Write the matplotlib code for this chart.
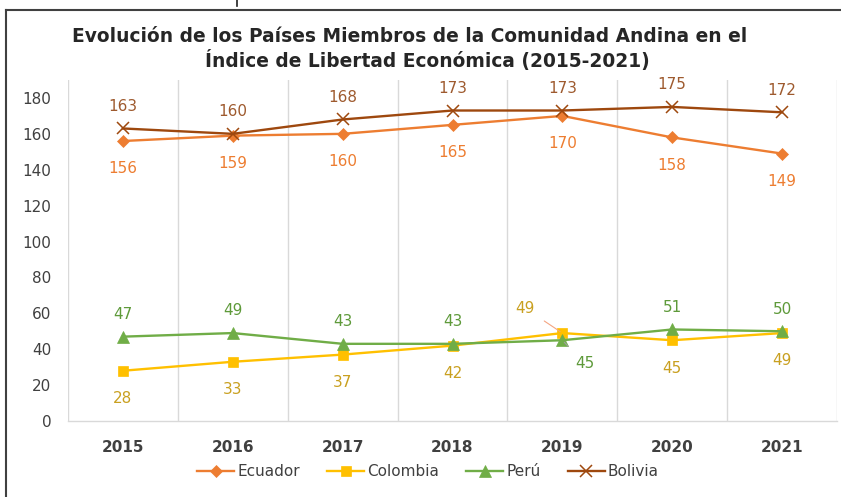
import matplotlib
matplotlib.use("Agg")
import matplotlib.pyplot as plt
from matplotlib.lines import Line2D

years = ["2015", "2016", "2017", "2018", "2019", "2020", "2021"]
ecuador = [156, 159, 160, 165, 170, 158, 149]
colombia = [28, 33, 37, 42, 49, 45, 49]
peru = [47, 49, 43, 43, 45, 51, 50]
bolivia = [163, 160, 168, 173, 173, 175, 172]
yticks = [0, 20, 40, 60, 80, 100, 120, 140, 160, 180]

plt.rcParams['font.family'] = ['DejaVu Sans']

fig = plt.figure(figsize=(8.41, 4.97), dpi=100)
ax = fig.add_axes([68/841, 1-421/497, (837-68)/841, (421-80)/497])

x = list(range(len(years)))
series = [
    ("Ecuador", ecuador, "#ED7D31", "D", 6, "#ED7D31"),
    ("Colombia", colombia, "#FFC000", "s", 7, "#C9A020"),
    ("Perú", peru, "#70AD47", "^", 8, "#5E9A3A"),
    ("Bolivia", bolivia, "#9E480E", "x", 9, "#9E5A2E"),
]
for name, vals, col, mk, ms, lc in series:
    ax.plot(x, vals, color=col, lw=1.7, marker=mk, markersize=ms,
            markeredgewidth=1.1 if mk == "x" else 0.5, label=name, zorder=3)

# data labels: +1 above, -1 below, 0 handled separately
pos = {
    "Ecuador": [-1, -1, -1, -1, -1, -1, -1],
    "Colombia": [-1, -1, -1, -1, 0, -1, -1],
    "Perú": [1, 1, 1, 1, 0, 1, 1],
    "Bolivia": [1, 1, 1, 1, 1, 1, 1],
}
for name, vals, col, mk, ms, lc in series:
    for i, v in enumerate(vals):
        p = pos[name][i]
        if p == 0:
            continue
        dy = 16 if p > 0 else -20
        ax.annotate(str(v), (i, v), xytext=(0, dy), textcoords="offset points",
                    ha="center", va="center", fontsize=11, color=lc)

# 2019 labels with leader lines
ax.annotate(str(colombia[4]), (4, colombia[4]), xytext=(-27, 18), textcoords="offset points",
            ha="center", va="center", fontsize=11, color="#C9A020",
            arrowprops=dict(arrowstyle="-", color="#F4A582", lw=0.8, shrinkA=6, shrinkB=2))
ax.annotate(str(peru[4]), (4, peru[4]), xytext=(16, -17), textcoords="offset points",
            ha="center", va="center", fontsize=11, color="#5E9A3A",
            arrowprops=dict(arrowstyle="-", color="#A0A0A0", lw=0.8, shrinkA=7, shrinkB=2))

ax.set_xlim(-0.5, len(years) - 0.5)
ax.set_ylim(0, 190)
ax.set_yticks(yticks)
ax.set_xticks(x)
ax.set_xticklabels(years)
ax.set_xticks([i - 0.5 for i in range(len(years) + 1)], minor=True)
ax.grid(axis="x", which="minor", color="#D9D9D9", lw=1.0)
ax.grid(axis="x", which="major", visible=False)
ax.tick_params(axis="both", which="both", length=0)
ax.tick_params(axis="y", labelsize=11, labelcolor="#404040", pad=12)
ax.tick_params(axis="x", labelsize=11, labelcolor="#404040", pad=14)
for lab in ax.get_xticklabels():
    lab.set_fontweight("bold")
for s in ["top", "left", "right"]:
    ax.spines[s].set_visible(False)
ax.spines["bottom"].set_color("#D9D9D9")
ax.spines["bottom"].set_linewidth(1.0)

fig.text(410/841, 1-37/497, "Evolución de los Países Miembros de la Comunidad Andina en el",
         ha="center", va="center", fontsize=13.4, fontweight="bold", color="#262626")
fig.text(427/841, 1-60/497, "Índice de Libertad Económica (2015-2021)",
         ha="center", va="center", fontsize=13.4, fontweight="bold", color="#262626")

handles = [Line2D([], [], color=c, marker=m, markersize=ms, lw=1.7,
                  markeredgewidth=1.1 if m == "x" else 0.5)
           for _, _, c, m, ms, _ in series]
fig.legend(handles, [s[0] for s in series], loc="center", bbox_to_anchor=(428/841, 1-472/497),
           ncol=4, frameon=False, fontsize=11, handlelength=2.4, handletextpad=0.2,
           columnspacing=1.8, labelcolor="#404040")

# outer frame
fig.add_artist(Line2D([6/841, 6/841], [0, 1-10/497], color="#404040", lw=1.5))
fig.add_artist(Line2D([6/841, 1], [1-10/497, 1-10/497], color="#404040", lw=1.5))
fig.add_artist(Line2D([237/841, 237/841], [1-6/497, 1], color="#202020", lw=1.2))

fig.savefig("out.png", dpi=100, facecolor="white")
